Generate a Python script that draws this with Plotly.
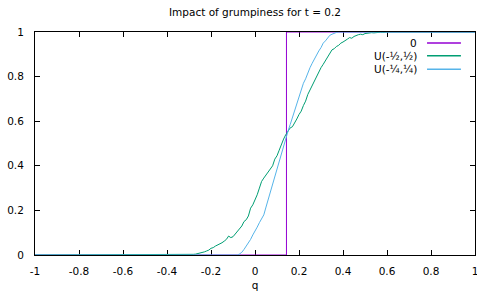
import plotly.graph_objects as go

title_text = "Impact of grumpiness for t = 0.2"
x_label = "q"
series_names = ["0", "U(-½,½)", "U(-¼,¼)"]
series_colors = ["#9400D3", "#009E73", "#56B4E9"]

# series "0": a step
q_zero = [-1.0, 0.143, 0.143, 1.0]
v_zero = [0.0, 0.0, 1.0, 1.0]

# series U(-1/2,1/2)
q_half = [-1.0] + [round(-0.30 + 0.01 * i, 2) for i in range(91)] + [1.0]
v_half = [0.0,
          0.000, 0.002, 0.003, 0.004, 0.006, 0.010, 0.012, 0.014, 0.018, 0.022,
          0.030, 0.033, 0.040, 0.045, 0.047, 0.055, 0.062, 0.070, 0.085, 0.078,
          0.082, 0.095, 0.105, 0.118, 0.130, 0.150, 0.158, 0.175, 0.210, 0.225,
          0.245, 0.270, 0.300, 0.330, 0.345, 0.360, 0.375, 0.390, 0.400, 0.430,
          0.445, 0.470, 0.500, 0.520, 0.540, 0.555, 0.570, 0.575, 0.590, 0.610,
          0.630, 0.645, 0.670, 0.690, 0.720, 0.740, 0.765, 0.785, 0.800, 0.820,
          0.840, 0.855, 0.870, 0.890, 0.905, 0.920, 0.925, 0.935, 0.940, 0.950,
          0.955, 0.960, 0.968, 0.975, 0.972, 0.980, 0.985, 0.988, 0.990, 0.988,
          0.993, 0.995, 0.994, 0.997, 0.996, 0.998, 0.997, 0.999, 0.998, 0.999,
          1.000,
          1.0]

# series U(-1/4,1/4)
q_quarter = [-1.0] + [round(-0.08 + 0.01 * i, 2) for i in range(47)] + [1.0]
v_quarter = [0.0,
             0.000, 0.005, 0.012, 0.025, 0.040, 0.050, 0.070, 0.090, 0.105, 0.125,
             0.145, 0.160, 0.180, 0.215, 0.250, 0.280, 0.310, 0.345, 0.380, 0.420,
             0.455, 0.495, 0.525, 0.555, 0.585, 0.615, 0.645, 0.675, 0.710, 0.745,
             0.770, 0.790, 0.820, 0.840, 0.860, 0.880, 0.895, 0.915, 0.930, 0.950,
             0.960, 0.975, 0.985, 0.990, 0.995, 0.998, 1.000,
             1.0]

x_ticks = [-1, -0.8, -0.6, -0.4, -0.2, 0, 0.2, 0.4, 0.6, 0.8, 1]
x_tick_labels = ["-1", "-0.8", "-0.6", "-0.4", "-0.2", "0", "0.2", "0.4", "0.6", "0.8", "1"]
y_ticks = [0, 0.2, 0.4, 0.6, 0.8, 1]
y_tick_labels = ["0", "0.2", "0.4", "0.6", "0.8", "1"]

FONT = "DejaVu Sans"
FS = 10.5

fig = go.Figure()
for q, v, name, col in [(q_zero, v_zero, series_names[0], series_colors[0]),
                        (q_half, v_half, series_names[1], series_colors[1]),
                        (q_quarter, v_quarter, series_names[2], series_colors[2])]:
    fig.add_trace(go.Scatter(x=q, y=v, mode="lines", name=name,
                             line=dict(color=col, width=1), showlegend=False))

# gnuplot-style key: right-aligned text with sample line to its right
key_rows_y = [0.951, 0.893, 0.833]
for name, col, yy in zip(series_names, series_colors, key_rows_y):
    fig.add_annotation(x=0.873, y=yy, xref="paper", yref="paper", text=name,
                       showarrow=False, xanchor="right", yanchor="middle",
                       font=dict(family=FONT, size=FS, color="black"))
    fig.add_shape(type="line", xref="paper", yref="paper", x0=0.891, x1=0.968,
                  y0=yy, y1=yy, line=dict(color=col, width=1.5))

axis_common = dict(showline=True, linecolor="black", linewidth=1, mirror="ticks",
                   ticks="inside", ticklen=5, tickcolor="black", tickwidth=1,
                   showgrid=False, zeroline=False, layer="below traces",
                   automargin=False, ticklabeloverflow="allow",
                   tickfont=dict(family=FONT, size=FS, color="black"))

fig.update_layout(
    width=477, height=299,
    margin=dict(l=35, r=2, t=32, b=44),
    paper_bgcolor="white", plot_bgcolor="white",
    title=dict(text=title_text, x=(35 + 220) / 477, xanchor="center",
               y=1 - 12 / 299, yanchor="middle", automargin=False,
               font=dict(family=FONT, size=FS, color="black")),
    xaxis=dict(range=[-1, 1], tickvals=x_ticks, ticktext=x_tick_labels,
               title=dict(text=x_label, font=dict(family=FONT, size=FS, color="black"),
                          standoff=6),
               ticklabelstandoff=6, **axis_common),
    yaxis=dict(range=[0, 1], tickvals=y_ticks, ticktext=y_tick_labels,
               ticklabelstandoff=8, **axis_common),
)

fig.write_html("out.html", config={"displayModeBar": False},
               post_script="document.body.style.margin='0';document.body.style.overflow='hidden';")
